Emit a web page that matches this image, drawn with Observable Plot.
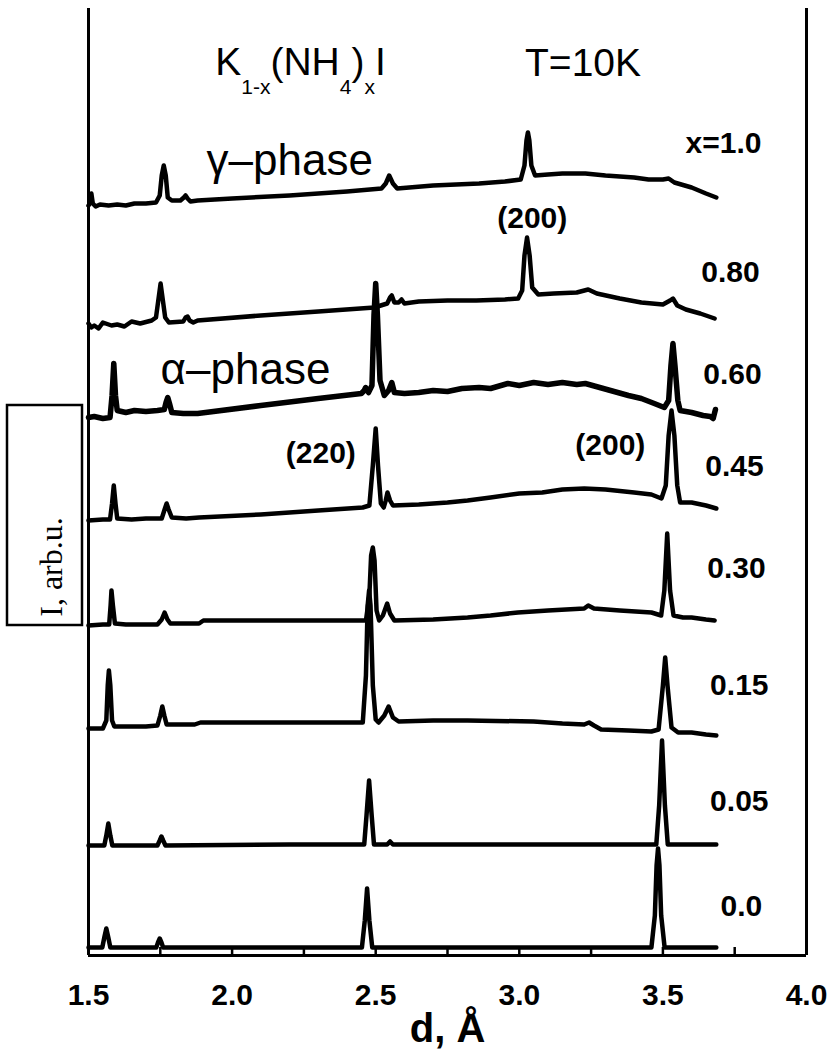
<!DOCTYPE html>
<html>
<head>
<meta charset="utf-8">
<script src="https://cdn.jsdelivr.net/npm/d3@7"></script>
<script src="https://cdn.jsdelivr.net/npm/@observablehq/plot@0.6"></script>
<style>
  html, body { margin: 0; padding: 0; background: #fff; }
  #chart { width: 829px; height: 1058px; }
</style>
</head>
<body>
<div id="chart"></div>
<script>
// ---- data: d (Å) vs intensity (arb. units, curves stacked) ----
const c100 = [[1.5,750],[1.505,752],[1.51,762],[1.515,752],[1.525,749],[1.54,751],[1.57,750],[1.6,751],[1.63,750],[1.66,752],[1.7,752],[1.735,753],[1.748,760],[1.755,780],[1.762,790],[1.769,780],[1.776,758],[1.79,755],[1.82,755],[1.832,758],[1.838,760],[1.845,757],[1.855,754],[1.88,755],[2.0,757],[2.2,760],[2.4,764],[2.52,767],[2.535,772],[2.547,780],[2.56,772],[2.575,767],[2.7,770],[2.86,772],[2.95,774],[3.005,776],[3.018,790],[3.025,815],[3.03,823],[3.035,815],[3.042,790],[3.055,780],[3.1,781],[3.15,782],[3.23,782],[3.3,780],[3.4,778],[3.45,776],[3.5,776],[3.52,777],[3.54,773],[3.6,768],[3.65,762],[3.686,758]];
const c080 = [[1.5,632],[1.51,628],[1.52,630],[1.535,627],[1.55,633],[1.58,630],[1.6,631],[1.625,629],[1.65,634],[1.68,632],[1.72,635],[1.735,638],[1.743,655],[1.751,672],[1.759,655],[1.767,638],[1.78,633],[1.83,634],[1.838,638],[1.845,639],[1.852,635],[1.865,633],[1.88,635],[2.1,640],[2.3,644],[2.495,648],[2.54,652],[2.55,658],[2.556,660],[2.565,653],[2.58,653],[2.59,656],[2.6,652],[2.65,654],[2.75,655],[2.85,655],[2.95,656],[2.996,657],[3.01,665],[3.018,700],[3.027,718],[3.036,700],[3.045,668],[3.066,661],[3.12,662],[3.2,663],[3.24,666],[3.27,662],[3.35,657],[3.425,653],[3.5,651],[3.525,655],[3.535,657],[3.55,650],[3.58,646],[3.63,642],[3.68,637]];
const c060 = [[1.5,538],[1.52,539],[1.55,537],[1.575,538],[1.582,560],[1.588,592],[1.594,560],[1.6,545],[1.63,543],[1.66,545],[1.7,544],[1.74,545],[1.764,546],[1.77,553],[1.776,558],[1.782,552],[1.79,543],[1.83,542],[1.88,542],[2.1,550],[2.3,557],[2.45,562],[2.46,565],[2.465,568],[2.475,563],[2.487,570],[2.494,640],[2.5,672],[2.506,640],[2.515,575],[2.53,560],[2.545,565],[2.556,573],[2.565,563],[2.6,562],[2.65,563],[2.7,565],[2.75,564],[2.8,567],[2.86,568],[2.9,567],[2.96,572],[3.0,570],[3.05,573],[3.1,571],[3.15,573],[3.2,571],[3.23,572],[3.28,568],[3.33,564],[3.38,560],[3.425,557],[3.47,552],[3.505,548],[3.52,555],[3.528,590],[3.535,612],[3.542,590],[3.552,555],[3.56,545],[3.6,543],[3.64,540],[3.665,539],[3.675,537],[3.683,546]];
const c045 = [[1.5,435],[1.55,436],[1.575,436],[1.582,452],[1.588,470],[1.594,452],[1.6,437],[1.65,436],[1.7,437],[1.755,437],[1.765,446],[1.772,452],[1.779,446],[1.79,438],[1.84,437],[1.885,438],[2.1,441],[2.3,445],[2.455,448],[2.478,450],[2.49,490],[2.5,527],[2.508,490],[2.518,452],[2.528,448],[2.535,455],[2.541,463],[2.55,455],[2.56,450],[2.65,451],[2.75,453],[2.82,455],[2.9,458],[3.0,462],[3.08,463],[3.15,466],[3.226,467],[3.3,466],[3.4,463],[3.46,461],[3.495,457],[3.51,470],[3.52,520],[3.53,545],[3.54,520],[3.55,470],[3.56,453],[3.6,453],[3.65,450],[3.686,447]];
const c030 = [[1.5,330],[1.55,331],[1.572,331],[1.577,350],[1.58,365],[1.585,350],[1.592,332],[1.63,331],[1.68,331],[1.74,331],[1.755,336],[1.765,343],[1.775,336],[1.785,332],[1.83,332],[1.885,332],[1.9,335],[2.2,335],[2.466,335],[2.478,360],[2.484,400],[2.49,408],[2.496,395],[2.503,345],[2.512,335],[2.525,340],[2.54,352],[2.55,342],[2.565,335],[2.7,336],[2.82,338],[2.9,340],[2.995,343],[3.1,345],[3.226,347],[3.24,350],[3.26,347],[3.35,345],[3.46,343],[3.494,340],[3.505,365],[3.515,422],[3.525,365],[3.537,340],[3.57,338],[3.6,338],[3.65,336],[3.68,335]];
const c015 = [[1.5,227],[1.55,227],[1.562,235],[1.567,270],[1.571,285],[1.576,270],[1.582,235],[1.59,229],[1.65,229],[1.7,229],[1.74,230],[1.75,240],[1.757,249],[1.764,240],[1.772,231],[1.82,231],[1.87,231],[1.89,233],[2.2,233],[2.455,233],[2.466,280],[2.472,350],[2.477,365],[2.482,350],[2.49,270],[2.5,236],[2.51,233],[2.53,240],[2.545,249],[2.56,238],[2.58,234],[2.7,235],[2.82,235],[3.05,234],[3.15,232],[3.226,231],[3.243,233],[3.26,230],[3.285,226],[3.38,225],[3.46,224],[3.485,226],[3.5,270],[3.508,298],[3.516,270],[3.53,228],[3.553,223],[3.6,223],[3.65,221],[3.686,220]];
const c005 = [[1.5,110],[1.555,110],[1.562,120],[1.569,132],[1.576,120],[1.583,110],[1.74,110],[1.748,115],[1.754,119],[1.76,115],[1.768,110],[2.2,111],[2.46,111],[2.468,140],[2.477,175],[2.486,140],[2.494,111],[2.54,111],[2.55,114],[2.56,111],[3.0,111],[3.3,111],[3.477,111],[3.487,150],[3.497,215],[3.507,150],[3.517,111],[3.686,111]];
const c000 = [[1.5,8],[1.548,8],[1.555,18],[1.562,27],[1.569,18],[1.576,8],[1.736,8],[1.742,13],[1.748,17],[1.754,13],[1.76,8],[2.452,8],[2.462,35],[2.47,67],[2.478,35],[2.488,8],[3.46,8],[3.472,40],[3.478,90],[3.483,107],[3.488,90],[3.494,40],[3.506,8],[3.686,8]];

const curves = [c100, c080, c060, c045, c030, c015, c005, c000];
const curveWidths = [4.5, 4.5, 5.5, 4.5, 4.5, 4.5, 4.5, 4.5];

// curve labels (x composition) and their anchor positions
const seriesLabels = ["x=1.0", "0.80", "0.60", "0.45", "0.30", "0.15", "0.05", "0.0"];
const seriesLabelX = [3.711, 3.735, 3.742, 3.749, 3.756, 3.766, 3.766, 3.773];
const seriesLabelY = [812, 683, 581, 489, 387, 270, 154, 49];

// reflection annotations
const hklLabels = ["(200)", "(200)", "(220)"];
const hklX = [3.045, 3.317, 2.309];
const hklY = [737, 510, 502];

const phaseLabels = ["γ–phase", "α–phase"];
const phaseX = [1.911, 1.751];
const phaseY = [795, 586];

const tickLabels = [1.5, 2.0, 2.5, 3.0, 3.5, 4.0];
const minorTicks = [1.75, 2.0, 2.25, 2.5, 2.75, 3.0, 3.25, 3.5, 3.75];

const xLabel = "d, Å";
const yLabel = "I, arb.u.";
const titleX = 1.943, titleY = 880;
const tempLabel = "T=10K";
const tempX = 3.020;

const SANS = "'Liberation Sans', Arial, sans-serif";

const plot = Plot.plot({
  width: 829,
  height: 1058,
  marginLeft: 88,
  marginRight: 23,
  marginTop: 8,
  marginBottom: 103,
  x: {domain: [1.5, 4.0]},
  y: {domain: [0, 947], axis: null},
  style: {fontFamily: SANS, background: "#fff", color: "#000"},
  marks: [
    Plot.axisX({ticks: tickLabels, tickSize: 0, tickPadding: 28, fontSize: 30, fontWeight: "bold", tickFormat: d => d.toFixed(1), label: null}),
    Plot.tickX(minorTicks, {x: d => d, insetTop: 939, strokeWidth: 2.5, stroke: "#000"}),
    Plot.ruleX([1.5, 4.0], {strokeWidth: 3, stroke: "#000"}),
    Plot.ruleY([0], {strokeWidth: 3, stroke: "#000"}),
    ...curves.map((c, i) => Plot.line(c, {x: d => d[0], y: d => d[1], stroke: "#000", strokeWidth: curveWidths[i], strokeLinejoin: "round", strokeLinecap: "round"})),
    Plot.text(seriesLabels, {x: (d, i) => seriesLabelX[i], y: (d, i) => seriesLabelY[i], text: d => d, fontSize: 30, fontWeight: "bold", fill: "#000"}),
    Plot.text(hklLabels, {x: (d, i) => hklX[i], y: (d, i) => hklY[i], text: d => d, fontSize: 30, fontWeight: "bold", fill: "#000"}),
    Plot.text(phaseLabels, {x: (d, i) => phaseX[i], y: (d, i) => phaseY[i], text: d => d, fontSize: 44, textAnchor: "start", fill: "#000"}),
    Plot.text([tempLabel], {x: tempX, y: titleY, text: d => d, fontSize: 39, textAnchor: "start", lineAnchor: "bottom", fill: "#000"}),
    Plot.text([xLabel], {frameAnchor: "bottom", dy: 86, text: d => d, fontSize: 40, fontWeight: "bold", fill: "#000"})
  ]
});

document.getElementById("chart").appendChild(plot);

// formula title with subscripts, positioned via the plot's scales
const svg = d3.select(plot);
const sx = plot.scale("x"), sy = plot.scale("y");
const title = svg.append("text")
  .attr("x", sx.apply(titleX))
  .attr("y", sy.apply(titleY))
  .attr("text-anchor", "start")
  .attr("font-family", SANS)
  .attr("font-size", 39)
  .attr("fill", "#000");
const parts = [["K", 39, 0], ["1-x", 21, 19], ["(NH", 39, -19], ["4", 21, 19], [")", 39, -19], ["x", 21, 19], ["I", 39, -19]];
parts.forEach(([t, fs, dy]) => title.append("tspan").attr("font-size", fs).attr("dy", dy).text(t));

// boxed y-axis label in the left margin
const g = svg.append("g");
g.append("rect").attr("x", 7).attr("y", 405).attr("width", 75).attr("height", 220)
  .attr("fill", "none").attr("stroke", "#000").attr("stroke-width", 2.5);
g.append("text")
  .attr("transform", "translate(62,567) rotate(-90)")
  .attr("text-anchor", "middle")
  .attr("font-family", "'Liberation Serif', 'Times New Roman', serif")
  .attr("font-size", 32)
  .attr("fill", "#000")
  .text(yLabel);
</script>
</body>
</html>
